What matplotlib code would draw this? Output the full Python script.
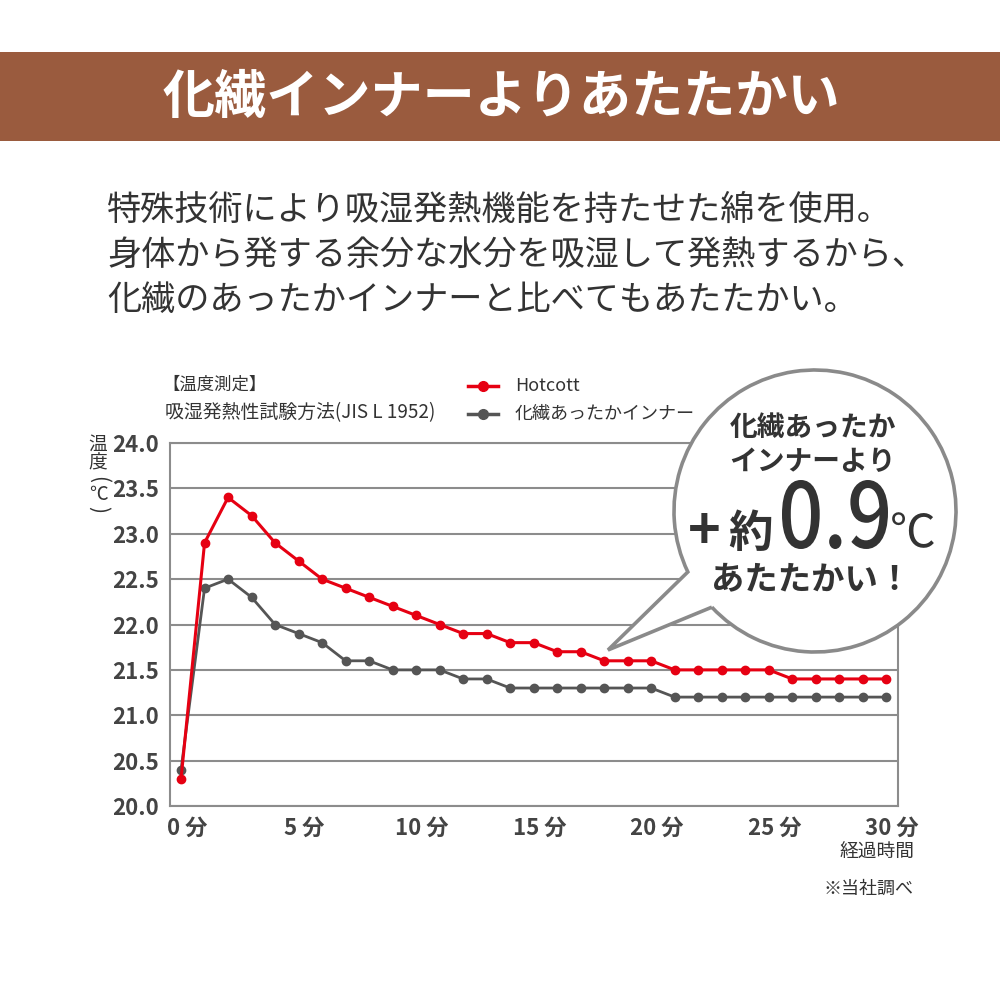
import matplotlib
matplotlib.use('Agg')
import matplotlib.pyplot as plt
from matplotlib.patches import Rectangle, PathPatch
from matplotlib.path import Path
from matplotlib.lines import Line2D
from matplotlib.textpath import TextPath
from matplotlib.font_manager import FontProperties
from matplotlib.transforms import ScaledTranslation

plt.rcParams['font.family'] = ['Noto Sans CJK JP', 'DejaVu Sans']

# data: temperature (deg C) every minute, 0..30 min
minutes = list(range(31))
hotcott = [20.3, 22.9, 23.4, 23.2, 22.9, 22.7, 22.5, 22.4, 22.3, 22.2, 22.1,
           22.0, 21.9, 21.9, 21.8, 21.8, 21.7, 21.7, 21.6, 21.6, 21.6,
           21.5, 21.5, 21.5, 21.5, 21.5, 21.4, 21.4, 21.4, 21.4, 21.4]
kasen = [20.4, 22.4, 22.5, 22.3, 22.0, 21.9, 21.8, 21.6, 21.6, 21.5, 21.5,
         21.5, 21.4, 21.4, 21.3, 21.3, 21.3, 21.3, 21.3, 21.3, 21.3,
         21.2, 21.2, 21.2, 21.2, 21.2, 21.2, 21.2, 21.2, 21.2, 21.2]
xticks = [0, 5, 10, 15, 20, 25, 30]
xtick_labels = ['0 分', '5 分', '10 分', '15 分', '20 分', '25 分', '30 分']
yticks = [20.0, 20.5, 21.0, 21.5, 22.0, 22.5, 23.0, 23.5, 24.0]

RED = '#e60012'
GRAY = '#555555'
TXT = '#333333'
GRID = '#8c8c8c'
BROWN = '#9a5b3e'

fig = plt.figure(figsize=(10, 10), dpi=100)
fig.patch.set_facecolor('white')


def fx(px):
    return px / 1000


def fy(py):
    return 1 - py / 1000


# banner
fig.add_artist(Rectangle((0, fy(141)), 1, fx(89), transform=fig.transFigure,
                         facecolor=BROWN, edgecolor='none'))
fig.text(0.501, fy(97), '化繊インナーよりあたたかい', color='white', fontsize=37.5,
         fontweight='bold', ha='center', va='center')

# body text
body = ['特殊技術により吸湿発熱機能を持たせた綿を使用。',
        '身体から発する余分な水分を吸湿して発熱するから、',
        '化繊のあったかインナーと比べてもあたたかい。']
for i, line in enumerate(body):
    fig.text(fx(107), fy(210 + 45 * i), line, color=TXT, fontsize=24.6,
             ha='left', va='center')

# chart
ax = fig.add_axes([fx(170), fy(806), fx(728), fx(363)])
ax.plot(minutes, hotcott, '-o', color=RED, lw=2.2, ms=6, zorder=4)
ax.plot(minutes, kasen, '-o', color=GRAY, lw=2.0, ms=6, zorder=3)
ax.set_xlim(-0.47, 30.5)
ax.set_ylim(20.0, 24.0)
ax.set_yticks(yticks)
ax.set_yticklabels([f'{v:.1f}' for v in yticks])
ax.set_xticks(xticks)
ax.set_xticklabels(xtick_labels)
ax.tick_params(length=0, labelsize=16, labelcolor='#444444', pad=8)
for lab in ax.get_xticklabels() + ax.get_yticklabels():
    lab.set_fontweight('bold')
for lab in ax.get_xticklabels():
    lab.set_transform(lab.get_transform() + ScaledTranslation(6 / 100, 0, fig.dpi_scale_trans))
ax.grid(axis='y', color=GRID, lw=1.5)
ax.set_axisbelow(True)
for s in ax.spines.values():
    s.set_color(GRID)
    s.set_linewidth(1.5)

# y label (vertical)
for ch, py, rot, fs in [('温', 444, 0, 13.5), ('度', 463, 0, 13.5), ('(', 480, -90, 15),
                        ('℃', 495, 0, 13.5), (')', 510, -90, 15)]:
    fig.text(fx(98), fy(py), ch, color=TXT, fontsize=fs, ha='center', va='center',
             rotation=rot)

fig.text(fx(915), fy(852), '経過時間', color=TXT, fontsize=13.5, ha='right', va='center')
fig.text(fx(913), fy(889), '※当社調べ', color=TXT, fontsize=13, ha='right', va='center')

# header notes + legend
fig.text(fx(162), fy(385), '【温度測定】', color=TXT, fontsize=12.5, ha='left', va='center')
fig.text(fx(165), fy(413), '吸湿発熱性試験方法(JIS L 1952)', color=TXT, fontsize=13.6,
         ha='left', va='center')
for col, py, name in [(RED, 386, 'Hotcott'), (GRAY, 414, '化繊あったかインナー')]:
    fig.add_artist(Line2D([fx(468), fx(498)], [fy(py)] * 2, color=col, lw=2.5,
                          transform=fig.transFigure))
    fig.add_artist(Line2D([fx(483)], [fy(py)], color=col, marker='o', ms=7,
                          transform=fig.transFigure))
    fig.text(fx(515), fy(py), name, color=TXT, fontsize=13, ha='left', va='center')

# speech bubble
cx, cy, r = 815, 511, 141
arc = Path.arc(223, 565.6)
verts = [(cx + r * x, cy - r * y) for x, y in arc.vertices]
codes = list(arc.codes)
verts += [(608, 650), verts[0]]
codes += [Path.LINETO, Path.LINETO]
verts = [(fx(x), fy(y)) for x, y in verts]
bubble = PathPatch(Path(verts, codes), facecolor='white', edgecolor='#8a8a8a',
                   lw=2.6, transform=fig.transFigure, zorder=5, joinstyle='miter')
fig.add_artist(bubble)

fig.text(fx(813), fy(428), '化繊あったか', color=TXT, fontsize=20, fontweight='bold',
         ha='center', va='center', zorder=6)
fig.text(fx(813), fy(462), 'インナーより', color=TXT, fontsize=20, fontweight='bold',
         ha='center', va='center', zorder=6)
fig.text(fx(704), fy(549), '+', color=TXT, fontsize=40, fontweight='bold',
         ha='center', va='baseline', zorder=6)
fig.text(fx(751), fy(547), '約', color=TXT, fontsize=32, fontweight='bold',
         ha='center', va='baseline', zorder=6)

# condensed "0.9" drawn as a path, left 782..888 px, baseline 547, digit height ~68 px
tp = TextPath((0, 0), '0.9', size=100,
              prop=FontProperties(family='Noto Sans CJK JP', weight='medium'))
ext = tp.get_extents()
kx = 106 / ext.width
ky = 69 / ext.height
nv = [(fx(782 + (vx - ext.x0) * kx), fy(549 - (vy - ext.y0) * ky)) for vx, vy in tp.vertices]
fig.add_artist(PathPatch(Path(nv, tp.codes), facecolor=TXT, edgecolor='none',
                         transform=fig.transFigure, zorder=6))

fig.text(fx(913), fy(547), '℃', color=TXT, fontsize=33,
         ha='center', va='baseline', zorder=6)
fig.text(fx(811), fy(580), 'あたたかい！', color=TXT, fontsize=24, fontweight='bold',
         ha='center', va='center', zorder=6)

fig.savefig('out.png', dpi=100)
